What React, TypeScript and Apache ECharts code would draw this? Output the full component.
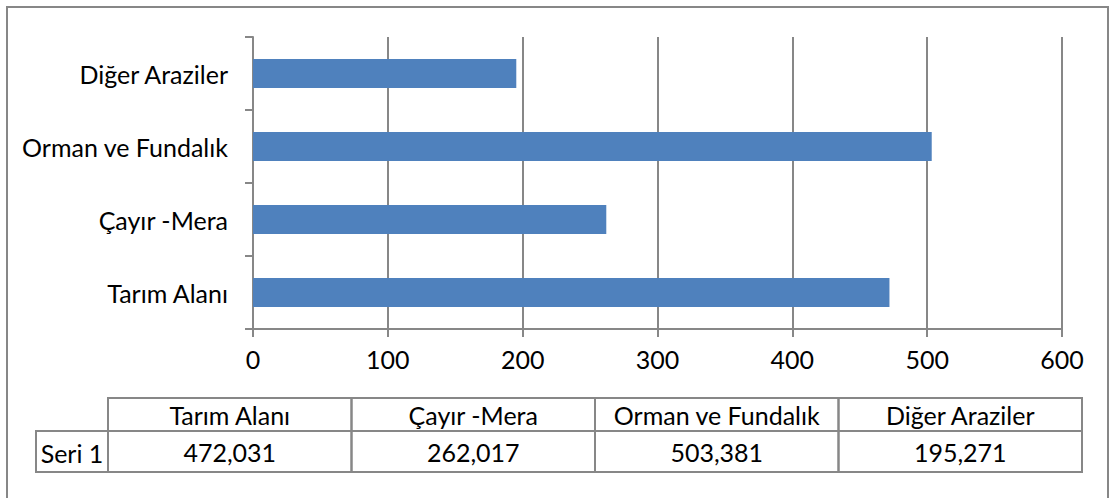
import React, { useEffect, useRef } from "react";
import * as echarts from "echarts";

const categories = ["Tarım Alanı", "Çayır -Mera", "Orman ve Fundalık", "Diğer Araziler"];
const values = [472.031, 262.017, 503.381, 195.271];
const seriesName = "Seri 1";
const xTicks = { min: 0, max: 600, interval: 100 };

const FONT = "Lato";
const FS = 25;
const GRAY = "#878787";
const BAR = "#4F81BD";

function fmt(v: number) {
  return v.toFixed(3).replace(".", ",");
}

export default function App() {
  const ref = useRef<HTMLDivElement>(null);
  useEffect(() => {
    if (!ref.current) return;
    const chart = echarts.init(ref.current, undefined, { renderer: "svg" });

    const tableX = 108;
    const colW = (1082 - 108) / categories.length;
    const headY = 398;
    const headH = 33;
    const rowY = 431;
    const rowH = 41;
    const labelX = 36;

    const graphics: any[] = [
      {
        type: "rect",
        shape: { x: 7, y: 7, width: 1101, height: 520 },
        style: { fill: "none", stroke: GRAY, lineWidth: 2 },
        silent: true,
      },
      {
        type: "rect",
        shape: { x: labelX, y: rowY, width: tableX - labelX, height: rowH },
        style: { fill: "none", stroke: GRAY, lineWidth: 2 },
      },
      {
        type: "text",
        x: (labelX + tableX) / 2,
        y: rowY + rowH / 2 + 1,
        style: {
          text: seriesName,
          fontFamily: FONT,
          fontSize: FS,
          fill: "#000",
          align: "center",
          verticalAlign: "middle",
        },
      },
    ];
    categories.forEach((c, i) => {
      const x = tableX + i * colW;
      graphics.push(
        {
          type: "rect",
          shape: { x, y: headY, width: colW, height: headH },
          style: { fill: "none", stroke: GRAY, lineWidth: 2 },
        },
        {
          type: "rect",
          shape: { x, y: rowY, width: colW, height: rowH },
          style: { fill: "none", stroke: GRAY, lineWidth: 2 },
        },
        {
          type: "text",
          x: x + colW / 2,
          y: headY + headH / 2,
          style: {
            text: c,
            fontFamily: FONT,
            fontSize: FS,
            fill: "#000",
            align: "center",
            verticalAlign: "middle",
          },
        },
        {
          type: "text",
          x: x + colW / 2,
          y: rowY + rowH / 2,
          style: {
            text: fmt(values[i]),
            fontFamily: FONT,
            fontSize: FS,
            fill: "#000",
            align: "center",
            verticalAlign: "middle",
          },
        }
      );
    });

    chart.setOption({
      animation: false,
      backgroundColor: "#fff",
      grid: { left: 253, right: 49, top: 37, bottom: 169, containLabel: false },
      xAxis: {
        type: "value",
        min: xTicks.min,
        max: xTicks.max,
        interval: xTicks.interval,
        axisLine: { show: true, lineStyle: { color: GRAY, width: 2 } },
        axisTick: { show: true, length: 8, lineStyle: { color: GRAY, width: 2 } },
        splitLine: { show: true, lineStyle: { color: GRAY, width: 2 } },
        axisLabel: { color: "#000", fontFamily: FONT, fontSize: FS, margin: 17 },
      },
      yAxis: {
        type: "category",
        data: categories,
        axisLine: { show: true, lineStyle: { color: GRAY, width: 2 } },
        axisTick: { show: true, length: 8, alignWithLabel: false, lineStyle: { color: GRAY, width: 2 } },
        splitLine: { show: false },
        axisLabel: { color: "#000", fontFamily: FONT, fontSize: FS, margin: 25 },
      },
      series: [
        {
          name: seriesName,
          type: "bar",
          data: values,
          barCategoryGap: "60%",
          itemStyle: { color: BAR },
        },
      ],
      graphic: graphics,
    });
    return () => chart.dispose();
  }, []);
  return (
    <div
      ref={ref}
      style={{ position: "absolute", left: 0, top: 0, width: 1111, height: 498 }}
    />
  );
}
